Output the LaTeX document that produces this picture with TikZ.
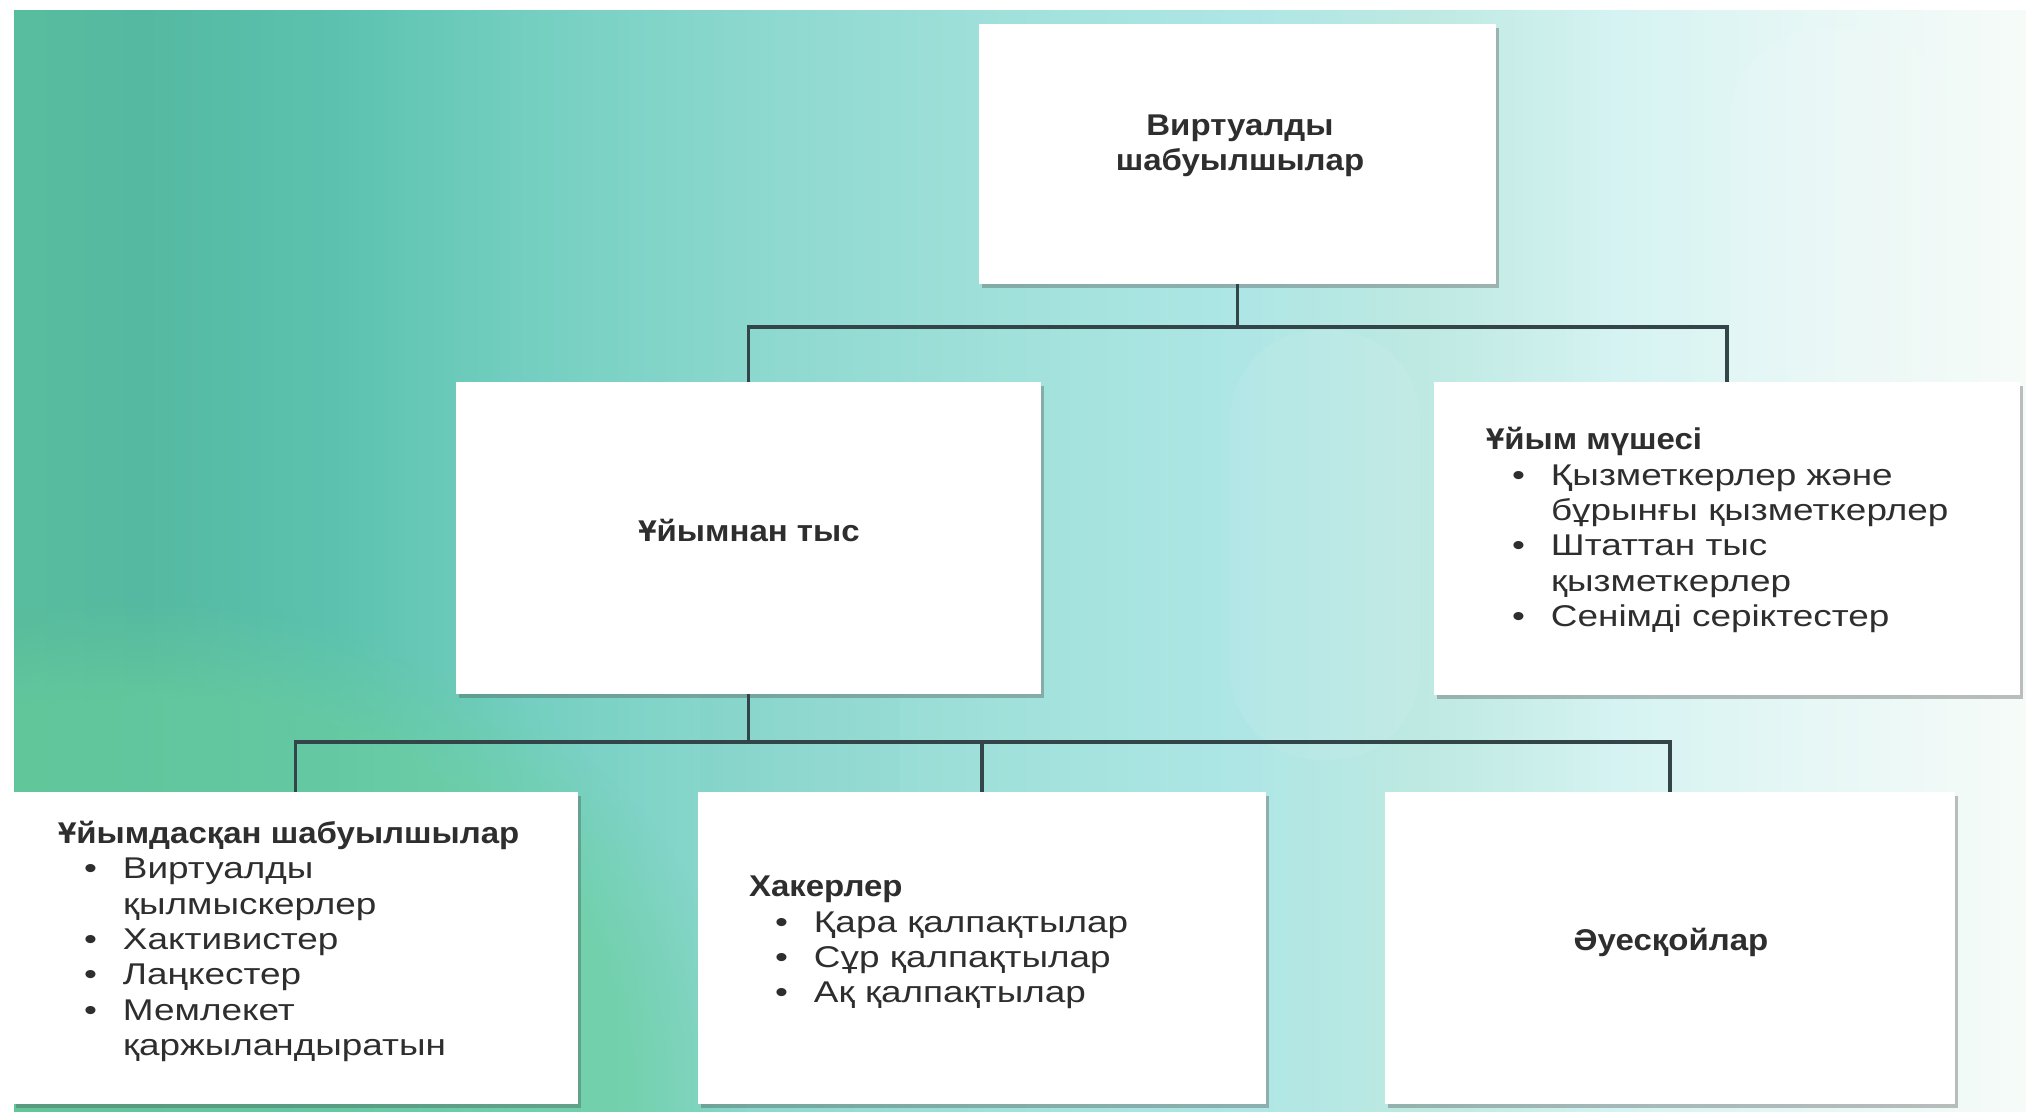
\documentclass[tikz,border=0pt]{standalone}
\usepackage{fontspec}
\setmainfont{Liberation Sans}[UprightFeatures={FakeStretch=1.23}, BoldFeatures={FakeStretch=1.10}]
\usetikzlibrary{shadows,calc,fadings}
\definecolor{txtc}{HTML}{2E2E2E}
\definecolor{lineC}{HTML}{34454A}
\definecolor{bgA}{HTML}{58BC9E}
\definecolor{bgB}{HTML}{55B9A1}
\definecolor{bgC}{HTML}{5CC2AF}
\definecolor{bgD}{HTML}{74CFC1}
\definecolor{bgE}{HTML}{8FD9D0}
\definecolor{bgF}{HTML}{A3E2DC}
\definecolor{bgG}{HTML}{ADE6E5}
\definecolor{bgH}{HTML}{BEE9E2}
\definecolor{bgI}{HTML}{D5F3F2}
\definecolor{bgJ}{HTML}{E6F7F5}
\definecolor{bgK}{HTML}{F6FBF8}
\definecolor{bgGr}{HTML}{6CD09A}
\pgfdeclarehorizontalshading{bgshade}{100bp}{color(0bp)=(bgA); color(25.3bp)=(bgA); color(28.2bp)=(bgB); color(33bp)=(bgC); color(37.8bp)=(bgD); color(44.1bp)=(bgE); color(50.5bp)=(bgF); color(55.3bp)=(bgG); color(60.1bp)=(bgH); color(64.9bp)=(bgI); color(69.6bp)=(bgJ); color(75bp)=(bgK); color(100bp)=(bgK)}
\newcommand\fsz{\fontsize{30}{35.3}\selectfont}
\newcommand\bitem[1]{\hspace*{26pt}\makebox[39pt][l]{\textbullet}#1}
\newcommand\bcont[1]{\hspace*{65pt}#1}
\begin{document}
\begin{tikzpicture}[x=1pt,y=-1pt,
  card/.style={fill=white, draw=none, inner sep=0pt,
    drop shadow={shadow xshift=3pt, shadow yshift=-4pt, opacity=0.35, fill=black!70}},
  conn/.style={draw=lineC, line width=3.5pt},
  lbl/.style={text=txtc, font=\fsz, align=left, inner sep=0pt},
  hd/.style={text=txtc, font=\fsz\bfseries, align=center, inner sep=0pt}]
\useasboundingbox (0,0) rectangle (2026,1111);
\fill[white] (0,0) rectangle (2026,1111);
\shade[shading=bgshade] (14,10) rectangle (2026,1111);
\begin{scope}
  \clip (14,10) rectangle (2026,1111);
  \fill[bgGr, fill opacity=0.55, path fading=circle with fuzzy edge 20 percent] (-450,600) rectangle (750,1600);
  % faint background pills
  \fill[white, opacity=0.08, rounded corners=90pt] (1230,330) rectangle (1420,760);
  \fill[white, opacity=0.10, rounded corners=90pt] (1730,30) rectangle (1950,560);
  \fill[black, opacity=0.008, rounded corners=90pt] (700,620) rectangle (900,900);
\end{scope}

% boxes
\node[card, minimum width=517pt, minimum height=260pt] (top) at (1237.5,154) {};
\node[card, minimum width=585pt, minimum height=312pt] (midL) at (748.5,538) {};
\node[card, minimum width=586pt, minimum height=313pt] (right) at (1727,538.5) {};
\node[card, minimum width=565pt, minimum height=312pt] (botL) at (295.5,948) {};
\node[card, minimum width=568pt, minimum height=312pt] (botM) at (982,948) {};
\node[card, minimum width=570pt, minimum height=312pt] (botR) at (1670,948) {};

% connectors
\coordinate (bus1) at (1237.5,327);
\coordinate (bus2) at (748.5,742);
\draw[conn] (top.south) -- (bus1);
\draw[conn] (midL.north) |- (bus1);
\draw[conn] (right.north) |- (bus1);
\draw[conn] (midL.south) -- (bus2);
\draw[conn] (botL.north) |- (bus2);
\draw[conn] (botM.north) |- (bus2);
\draw[conn] (botR.north) |- (bus2);

% texts
\node[hd] (topt) at (1240,146) {Виртуалды\\шабуылшылар};
\node[hd] (midLt) at (749,530) {Ұйымнан тыс};
\node[lbl, anchor=west] (rightt) at ($(right.west)+(52,-8.5)$)
  {\textbf{Ұйым мүшесі}\\
   \bitem{Қызметкерлер және}\\
   \bcont{бұрынғы қызметкерлер}\\
   \bitem{Штаттан тыс}\\
   \bcont{қызметкерлер}\\
   \bitem{Сенімді серіктестер}};
\node[lbl, anchor=west] (botLt) at ($(botL.west)+(45,-6.5)$)
  {\textbf{Ұйымдасқан шабуылшылар}\\
   \bitem{Виртуалды}\\
   \bcont{қылмыскерлер}\\
   \bitem{Хактивистер}\\
   \bitem{Лаңкестер}\\
   \bitem{Мемлекет}\\
   \bcont{қаржыландыратын}};
\node[lbl, anchor=west] (botMt) at ($(botM.west)+(51,-5.5)$)
  {\textbf{Хакерлер}\\
   \bitem{Қара қалпақтылар}\\
   \bitem{Сұр қалпақтылар}\\
   \bitem{Ақ қалпақтылар}};
\node[hd] (botRt) at (1671,942) {Әуесқойлар};
\end{tikzpicture}
\end{document}
